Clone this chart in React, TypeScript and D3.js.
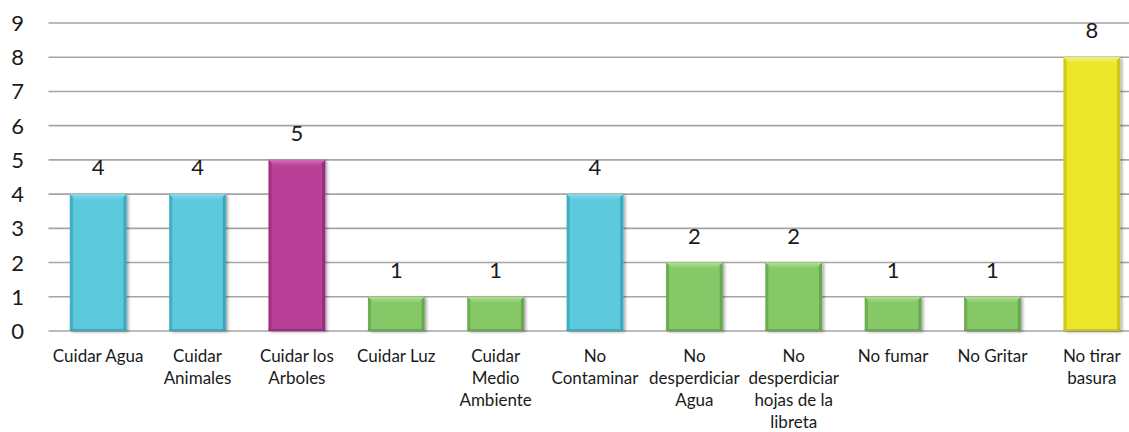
import React from "react";
import * as d3 from "d3";

const categories = [
  "Cuidar Agua",
  "Cuidar\nAnimales",
  "Cuidar los\nArboles",
  "Cuidar Luz",
  "Cuidar\nMedio\nAmbiente",
  "No\nContaminar",
  "No\ndesperdiciar\nAgua",
  "No\ndesperdiciar\nhojas de la\nlibreta",
  "No fumar",
  "No Gritar",
  "No tirar\nbasura",
];
const values = [4, 4, 5, 1, 1, 4, 2, 2, 1, 1, 8];
const colorKeys = ["cyan", "cyan", "magenta", "green", "green", "cyan", "green", "green", "green", "green", "yellow"];
const yTicks = [0, 1, 2, 3, 4, 5, 6, 7, 8, 9];

const palette: Record<string, { base: string; light: string; dark: string }> = {
  cyan: { base: "#5DC9DD", light: "#8ADBE8", dark: "#2E9FB2" },
  magenta: { base: "#B83F96", light: "#D36FB6", dark: "#8E2673" },
  green: { base: "#86C868", light: "#B3DF95", dark: "#5E9D46" },
  yellow: { base: "#EBE62C", light: "#F5F27A", dark: "#BDB817" },
};

const W = 1129;
const H = 432;
const plotLeft = 48.5;
const plotRight = 1141.5;
const font = "Lato, 'Open Sans', sans-serif";

export default function App() {
  const x = d3.scaleBand<number>().domain(d3.range(categories.length)).range([plotLeft, plotRight]).paddingInner(0.43).paddingOuter(0.215);
  const y = d3.scaleLinear().domain([0, 9]).range([331, 23]);
  const bw = x.bandwidth();
  const bv = 6;

  return (
    <svg width={W} height={H} style={{ position: "absolute", left: 0, top: 0, background: "#fff" }}>
      <defs>
        <filter id="sh" x="-20%" y="-20%" width="150%" height="140%">
          <feDropShadow dx="2" dy="1" stdDeviation="1.5" floodColor="#000" floodOpacity="0.35" />
        </filter>
        {Object.keys(palette).map((k) => (
          <linearGradient key={k} id={`top-${k}`} x1="0" y1="0" x2="0" y2="1">
            <stop offset="0" stopColor={palette[k].light} />
            <stop offset="1" stopColor={palette[k].base} />
          </linearGradient>
        ))}
      </defs>
      {yTicks.map((t) => (
        <g key={t}>
          <line x1={plotLeft} x2={W} y1={y(t)} y2={y(t)} stroke="#A5A5A5" strokeWidth={1.6} />
          <text x={24} y={y(t) + 8} textAnchor="end" fontFamily={font} fontSize={22} fill="#1a1a1a">
            {t}
          </text>
        </g>
      ))}
      {values.map((v, i) => {
        const x0 = x(i)!;
        const y0 = y(v);
        const y1 = y(0);
        const p = palette[colorKeys[i]];
        const h = y1 - y0;
        return (
          <g key={i}>
            <rect x={x0} y={y0} width={bw} height={h} fill={p.base} filter="url(#sh)" />
            <polygon points={`${x0},${y0} ${x0 + bw},${y0} ${x0 + bw - bv},${y0 + bv} ${x0 + bv},${y0 + bv}`} fill={`url(#top-${colorKeys[i]})`} />
            <polygon points={`${x0},${y0} ${x0 + bv * 0.5},${y0 + bv * 0.5} ${x0 + bv * 0.5},${y1 - bv * 0.3} ${x0},${y1}`} fill={p.dark} opacity={0.6} />
            <polygon points={`${x0 + bw},${y0} ${x0 + bw - bv * 0.5},${y0 + bv * 0.5} ${x0 + bw - bv * 0.5},${y1 - bv * 0.3} ${x0 + bw},${y1}`} fill={p.dark} opacity={0.75} />
            <rect x={x0} y={y1 - 2} width={bw} height={2} fill={p.dark} opacity={0.7} />
            <text x={x0 + bw / 2} y={y0 - 19} textAnchor="middle" fontFamily={font} fontSize={22} fill="#1a1a1a">
              {v}
            </text>
          </g>
        );
      })}
      {categories.map((c, i) => (
        <text key={i} x={x(i)! + bw / 2} y={361.5} textAnchor="middle" fontFamily={font} fontSize={17} fill="#1a1a1a">
          {c.split("\n").map((line, j) => (
            <tspan key={j} x={x(i)! + bw / 2} dy={j === 0 ? 0 : 22}>
              {line}
            </tspan>
          ))}
        </text>
      ))}
    </svg>
  );
}
